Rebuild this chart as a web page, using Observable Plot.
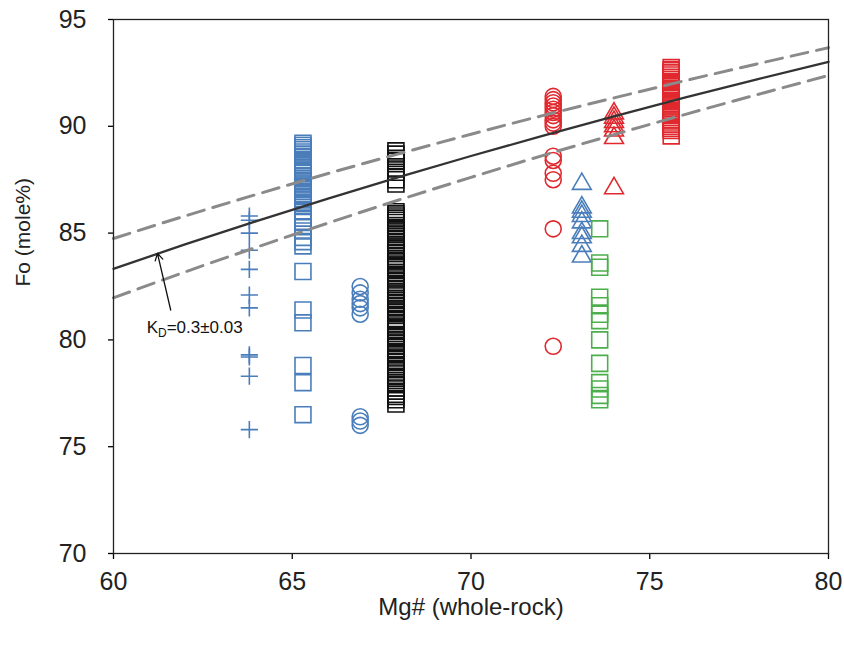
<!DOCTYPE html>
<html><head><meta charset="utf-8">
<script src="https://cdn.jsdelivr.net/npm/d3@7"></script>
<script src="https://cdn.jsdelivr.net/npm/@observablehq/plot@0.6"></script>
<style>body{margin:0;background:#fff;}</style>
</head><body><div id="chart"></div>
<script>
// ---- data ----
const xTicks = [60, 65, 70, 75, 80];
const yTicks = [70, 75, 80, 85, 90, 95];

// whole-rock Mg# of each sample column
const blueCrossMg = 63.8, blueSquareMg = 65.3, blueCircleMg = 66.9, blackSquareMg = 67.9;
const redCircleMg = 72.3, blueTriangleMg = 73.1, greenSquareMg = 73.6, redTriangleMg = 74.0, redSquareMg = 75.6;

// olivine Fo of each sample column
const blueCrossFo = [85.8, 85.6, 85.0, 84.2, 83.3, 82.1, 81.5, 79.3, 79.2, 78.3, 75.8];
const blueSquareFo = [89.2, 89.1, 89.0, 88.9, 88.8, 88.7, 88.6, 88.55, 88.4, 88.3, 88.2, 88.15, 88.05, 87.95, 87.9, 87.8, 87.7, 87.65, 87.55, 87.45, 87.4, 87.3, 87.2, 87.1, 87.05, 86.95, 86.85, 86.8, 86.7, 86.6, 86.55, 86.4, 86.3,
  86.0, 85.7, 85.5, 85.3, 85.1, 84.8, 84.6, 84.4, 83.2, 81.4, 80.8, 78.8, 78.0, 76.5];
const blueCircleFo = [82.5, 82.2, 81.9, 81.7, 81.5, 81.2, 76.4, 76.2, 76.0];
const blackSquareFo = [88.85, 88.7, 88.5, 88.4, 88.35, 88.0, 87.85, 87.5, 87.3,
  86.0, 85.9, 85.8, 85.7, 85.6, 85.5, 85.35, 85.2, 85.1, 84.95, 84.85, 84.7, 84.55, 84.4, 84.3, 84.2, 84.05, 83.9, 83.8, 83.7, 83.5, 83.4, 83.3, 83.15, 83.0, 82.9, 82.8,
  82.6, 82.5, 82.35, 82.2, 82.1, 81.95, 81.85, 81.7, 81.55, 81.4, 81.3, 81.15, 81.0, 80.9, 80.75, 80.6, 80.5, 80.4, 80.2, 80.1, 79.95, 79.85, 79.7, 79.55,
  79.4, 79.3, 79.15, 79.0, 78.85, 78.75, 78.6, 78.45, 78.3, 78.2, 78.0, 77.9, 77.75, 77.6, 77.45, 77.35, 77.2, 77.0];
const redCircleFo = [91.4, 91.25, 91.1, 90.95, 90.8, 90.65, 90.5, 90.3, 90.15, 90.0, 88.6, 88.4, 87.8, 87.5, 85.2, 79.7];
const blueTriangleFo = [87.3, 86.2, 86.0, 85.8, 85.5, 85.0, 84.8, 84.4, 83.9];
const greenSquareFo = [85.2, 83.6, 83.4, 82.0, 81.6, 81.2, 80.9, 80.0, 78.9, 78.0, 77.7, 77.4, 77.2];
const redTriangleFo = [90.6, 90.4, 90.2, 90.0, 89.8, 89.45, 87.1];
const redSquareFo = [92.75, 92.65, 92.6, 92.5, 92.4, 92.3, 92.2, 92.1, 92.05, 91.95, 91.85, 91.75, 91.7, 91.6, 91.5, 91.4, 91.3, 91.2, 91.15, 91.05, 90.95, 90.85, 90.75, 90.7, 90.6,
  90.5, 90.4, 90.3, 90.2, 90.1, 90.0, 89.9, 89.8, 89.55];

// equilibrium curves (KD = 0.3, 0.27, 0.33) read along Mg#
const curveMg = [60, 62, 64, 66, 68, 70, 72, 74, 76, 78, 80];
const kd030Fo = [83.33, 84.47, 85.56, 86.61, 87.63, 88.61, 89.55, 90.46, 91.35, 92.20, 93.02];
const kd027Fo = [84.75, 85.80, 86.81, 87.79, 88.72, 89.63, 90.50, 91.33, 92.14, 92.92, 93.68];
const kd033Fo = [81.97, 83.18, 84.34, 85.47, 86.56, 87.61, 88.63, 89.61, 90.56, 91.48, 92.38];

// annotation
const kdLabel = "KD=0.3±0.03";
const kdLabelAt = [62.27, 80.58];
const kdArrowFrom = [61.6, 81.4];
const kdArrowTo = [61.23, 84.05];

// ---- build tables ----
const col = (mg, fos) => fos.map(fo => ({mg, fo}));
const curve = (fos) => curveMg.map((mg, i) => ({mg, fo: fos[i]}));

const BLUE = "#4a7ebb", RED = "#e0282e", GREEN = "#4caf4c", BLACK = "#111";
const SQ = 9, CI = 8, TR = 7, PL = 5.6;
const dot = (data, symbol, color, r) => Plot.dot(data, {x: "mg", y: "fo", symbol, r, stroke: color, fill: "none", strokeWidth: 1.6});

const plot = Plot.plot({
  width: 844, height: 650,
  marginLeft: 113, marginRight: 16, marginTop: 19, marginBottom: 97,
  style: {fontFamily: "'Liberation Sans', Arial, sans-serif", background: "#fff"},
  x: {domain: [60, 80]},
  y: {domain: [70, 95]},
  marks: [
    Plot.axisX({ticks: xTicks, tickSize: 6, tickPadding: 13, fontSize: 25, label: null, tickFormat: d => d, strokeWidth: 1.3, fill: "#222"}),
    Plot.axisY({ticks: yTicks, tickSize: 5, tickPadding: 22, fontSize: 25, label: null, tickFormat: d => d, strokeWidth: 1.3, fill: "#222"}),
    Plot.text(["Mg# (whole-rock)"], {frameAnchor: "bottom", dy: 54, lineAnchor: "middle", fontSize: 24, fill: "#222"}),
    Plot.text(["Fo (mole%)"], {frameAnchor: "left", dx: -90, rotate: -90, lineAnchor: "middle", fontSize: 21, fill: "#222"}),
    dot(col(blueCrossMg, blueCrossFo), "plus", BLUE, PL),
    dot(col(blueSquareMg, blueSquareFo), "square", BLUE, SQ),
    dot(col(blueCircleMg, blueCircleFo), "circle", BLUE, CI),
    dot(col(blackSquareMg, blackSquareFo), "square", BLACK, SQ),
    dot(col(redCircleMg, redCircleFo), "circle", RED, CI),
    dot(col(blueTriangleMg, blueTriangleFo), "triangle", BLUE, TR),
    dot(col(greenSquareMg, greenSquareFo), "square", GREEN, SQ),
    dot(col(redTriangleMg, redTriangleFo), "triangle", RED, TR),
    dot(col(redSquareMg, redSquareFo), "square", RED, SQ),
    Plot.line(curve(kd027Fo), {x: "mg", y: "fo", stroke: "#8a8a8a", strokeWidth: 3, strokeDasharray: "17,9", curve: "natural"}),
    Plot.line(curve(kd033Fo), {x: "mg", y: "fo", stroke: "#8a8a8a", strokeWidth: 3, strokeDasharray: "17,9", curve: "natural"}),
    Plot.line(curve(kd030Fo), {x: "mg", y: "fo", stroke: "#333", strokeWidth: 2.3, curve: "natural"}),
    Plot.arrow([{x1: kdArrowFrom[0], y1: kdArrowFrom[1], x2: kdArrowTo[0], y2: kdArrowTo[1]}],
      {x1: "x1", y1: "y1", x2: "x2", y2: "y2", stroke: BLACK, strokeWidth: 1.3, headLength: 9, inset: 0, bend: 0}),
    Plot.text([{mg: kdLabelAt[0], fo: kdLabelAt[1], t: kdLabel}], {x: "mg", y: "fo", text: "t", fontSize: 17, fill: "#111"}),
    Plot.frame({stroke: "#222", strokeWidth: 1.3})
  ]
});
document.getElementById("chart").appendChild(plot);

// subscript D in K_D
d3.select(plot).selectAll("text").filter(function() { return this.textContent === kdLabel; }).each(function() {
  const t = d3.select(this);
  t.text(null);
  t.append("tspan").text("K");
  t.append("tspan").attr("font-size", 12).attr("dy", 4).text("D");
  t.append("tspan").attr("dy", -4).text("=0.3±0.03");
});
</script>
</body></html>
